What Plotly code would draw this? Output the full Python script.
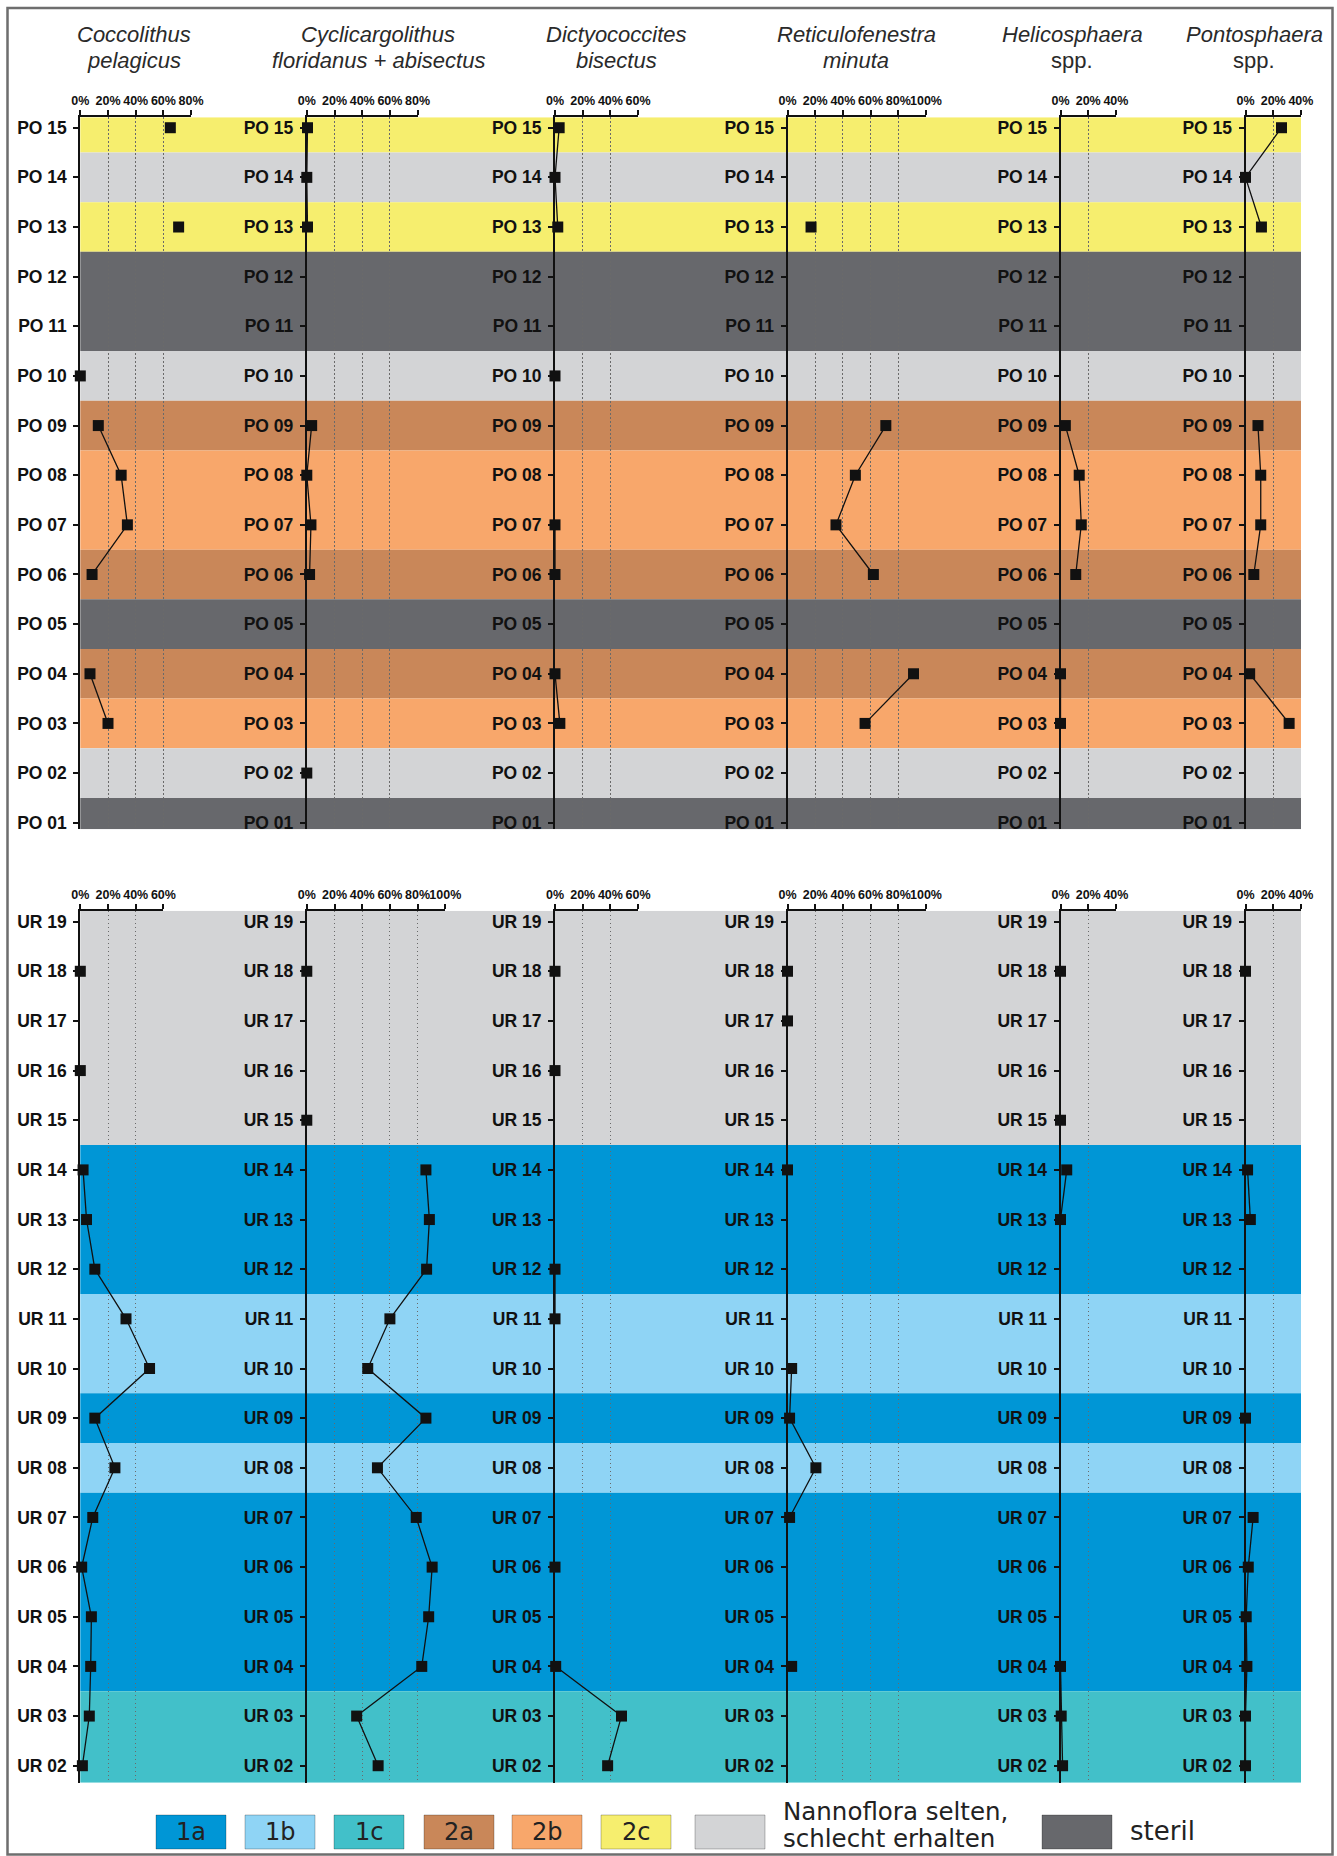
import plotly.graph_objects as go

# ---------------- data ----------------
species_titles = [
    ("Coccolithus", "pelagicus"),
    ("Cyclicargolithus", "floridanus + abisectus"),
    ("Dictyococcites", "bisectus"),
    ("Reticulofenestra", "minuta"),
    ("Helicosphaera", "spp."),
    ("Pontosphaera", "spp."),
]

# upper profile (PO 15 ... PO 01)
po_samples = ["PO 15", "PO 14", "PO 13", "PO 12", "PO 11", "PO 10", "PO 09", "PO 08",
              "PO 07", "PO 06", "PO 05", "PO 04", "PO 03", "PO 02", "PO 01"]
po_zones = ["2c", "grey", "2c", "steril", "steril", "grey", "2a", "2b",
            "2b", "2a", "steril", "2a", "2b", "grey", "steril"]
po_breaks = ["PO 10", "PO 03"]
po_axis_max = [80, 80, 60, 100, 40, 40]
po_coccolithus = [65, None, 71, None, None, 0, 13, 29.5, 34, 8.5, None, 7, 20, None, None]
po_cyclicargolithus = [0.5, 0, 0.5, None, None, None, 3.5, 0, 3, 2, None, None, None, 0, None]
po_dictyococcites = [3, 0, 2, None, None, 0, None, None, 0, 0, None, 0, 3.5, None, None]
po_reticulofenestra = [None, None, 17, None, None, None, 71, 49, 35, 62, None, 91, 56, None, None]
po_helicosphaera = [None, None, None, None, None, None, 3.5, 13.5, 15, 11, None, 0, 0, None, None]
po_pontosphaera = [26, 0, 11.5, None, None, None, 9, 11, 11, 6, None, 3, 31.5, None, None]

# lower profile (UR 19 ... UR 02)
ur_samples = ["UR 19", "UR 18", "UR 17", "UR 16", "UR 15", "UR 14", "UR 13", "UR 12", "UR 11",
              "UR 10", "UR 09", "UR 08", "UR 07", "UR 06", "UR 05", "UR 04", "UR 03", "UR 02"]
ur_zones = ["grey", "grey", "grey", "grey", "grey", "1a", "1a", "1a", "1b",
            "1b", "1a", "1b", "1a", "1a", "1a", "1a", "1c", "1c"]
ur_breaks = ["UR 15"]
ur_axis_max = [60, 100, 60, 100, 40, 40]
ur_coccolithus = [None, 0, None, 0, None, 2, 4.5, 10.5, 33, 50, 10.5, 25, 9, 1, 8, 7.5, 6.5, 1.5]
ur_cyclicargolithus = [None, 0, None, None, 0, 86, 88.5, 86.5, 60, 44, 86, 51, 79, 90.5, 88, 83, 36, 51.5]
ur_dictyococcites = [None, 0, None, 0, None, None, None, 0, 0, None, None, None, None, 0, None, 0.5, 48, 38]
ur_reticulofenestra = [None, 0, 0, None, None, 0, None, None, None, 3, 1.5, 20.5, 1.5, None, None, 3, None, None]
ur_helicosphaera = [None, 0, None, None, 0, 4.5, 0, None, None, None, None, None, None, None, None, 0, 0.5, 1.5]
ur_pontosphaera = [None, 0, None, None, None, 1.5, 3.5, None, None, None, 0, None, 5.5, 2, 0.5, 1, 0, 0]

legend_keys = ["1a", "1b", "1c", "2a", "2b", "2c", "grey", "steril"]
legend_text = {"grey": ["Nannoflora selten,", "schlecht erhalten"], "steril": ["steril"]}

zone_colors = {
    "1a": "#0096d6", "1b": "#8fd4f5", "1c": "#42c0c9",
    "2a": "#c98759", "2b": "#f8a76b", "2c": "#f6ee6e",
    "grey": "#d3d4d6", "steril": "#67686c",
}

# ---------------- geometry (pixels of the 1337x1856 page) ----------------
W, H = 1337, 1856
col_x0 = [80.3, 306.8, 555.0, 787.5, 1060.5, 1245.5]
px_per_pct = 27.7 / 20.0
band_x = (80.3, 1301.0)
panels = [
    dict(samples=po_samples, zones=po_zones, breaks=po_breaks, axmax=po_axis_max,
         values=[po_coccolithus, po_cyclicargolithus, po_dictyococcites,
                 po_reticulofenestra, po_helicosphaera, po_pontosphaera],
         ytop_px=117.3, ybot_px=829.3, rng=(0.867, 15.21)),
    dict(samples=ur_samples, zones=ur_zones, breaks=ur_breaks, axmax=ur_axis_max,
         values=[ur_coccolithus, ur_cyclicargolithus, ur_dictyococcites,
                 ur_reticulofenestra, ur_helicosphaera, ur_pontosphaera],
         ytop_px=910.7, ybot_px=1782.7, rng=(1.658, 19.22)),
]


def fx(px):
    return px / W


def fy(py):
    return 1 - py / H


FONT = "Liberation Sans, Arial, sans-serif"
fig = go.Figure()
layout = dict(width=W, height=H, margin=dict(l=0, r=0, t=0, b=0, pad=0, autoexpand=False),
              paper_bgcolor="white", plot_bgcolor="rgba(0,0,0,0)",
              showlegend=False, font=dict(family=FONT, color="#111"))
shapes = []
annotations = []

for p, pan in enumerate(panels):
    pos = [int(s.split()[1]) for s in pan["samples"]]
    ydom = [fy(pan["ybot_px"]), fy(pan["ytop_px"])]
    for c in range(6):
        k = p * 6 + c + 1
        xs = "" if k == 1 else str(k)
        amax = pan["axmax"][c]
        x0 = col_x0[c]
        x1 = x0 + amax * px_per_pct
        ticks = list(range(0, amax + 1, 20))
        layout["xaxis" + xs] = dict(
            domain=[fx(x0), fx(x1)], range=[0, amax], anchor="y" + xs, side="top",
            showline=True, linecolor="#111", linewidth=2, ticks="outside", ticklen=5,
            tickwidth=1.5, tickcolor="#111", tickvals=ticks, ticktext=[f"{t}%" for t in ticks],
            tickangle=0, automargin=False,
            tickfont=dict(size=12.5, family=FONT, weight="bold", color="#111"),
            showgrid=True, gridcolor="#6a6a6a", griddash="1.5px,2.5px", gridwidth=1,
            zeroline=False, fixedrange=True)
        layout["yaxis" + xs] = dict(
            domain=ydom, range=list(pan["rng"]), anchor="x" + xs, side="left",
            showline=True, linecolor="#111", linewidth=2, ticks="outside", ticklen=5,
            tickwidth=1.5, tickcolor="#111", tickvals=pos, ticktext=pan["samples"],
            automargin=False,
            tickfont=dict(size=17.5, family=FONT, weight="bold", color="#111"),
            ticklabelstandoff=3, showgrid=False, zeroline=False, fixedrange=True)
        # series with breaks
        xv, yv = [], []
        for s, yy, v in zip(pan["samples"], pos, pan["values"][c]):
            xv.append(v)
            yv.append(yy if v is not None else None)
            if s in pan["breaks"]:
                xv.append(None)
                yv.append(None)
        fig.add_trace(go.Scatter(
            x=xv, y=yv, xaxis="x" + xs, yaxis="y" + xs, mode="lines+markers",
            line=dict(color="#111", width=1.3),
            marker=dict(symbol="square", size=11, color="#111"),
            cliponaxis=False, connectgaps=False, hoverinfo="skip"))

    # zone bands (consecutive samples of the same zone merged into one band)
    yref = "y" if p == 0 else "y7"
    lo_lim, hi_lim = pan["rng"]
    n = len(pos)
    i = 0
    while i < n:
        j = i
        while j + 1 < n and pan["zones"][j + 1] == pan["zones"][i]:
            j += 1
        hi = hi_lim if i == 0 else (pos[i] + pos[i - 1]) / 2
        lo = lo_lim if j == n - 1 else (pos[j] + pos[j + 1]) / 2
        shapes.append(dict(type="rect", xref="paper", yref=yref,
                           x0=fx(band_x[0]), x1=fx(band_x[1]), y0=lo, y1=hi,
                           fillcolor=zone_colors[pan["zones"][i]], line=dict(width=0),
                           layer="below"))
        i = j + 1

# titles
title_cx = [134, 378, 616, 856, 1072, 1254]
for (l1, l2), cx in zip(species_titles, title_cx):
    annotations.append(dict(text=l1, x=fx(cx), y=fy(35), xref="paper", yref="paper",
                            xanchor="center", yanchor="middle", showarrow=False,
                            font=dict(family=FONT, size=22, style="italic", color="#2a2a2a")))
    annotations.append(dict(text=l2, x=fx(cx), y=fy(60), xref="paper", yref="paper",
                            xanchor="center", yanchor="middle", showarrow=False,
                            font=dict(family=FONT, size=22,
                                      style="normal" if l2 == "spp." else "italic",
                                      color="#2a2a2a")))

# legend
leg_x0 = [156, 245, 334, 424, 512, 601, 695, 1042]
leg_w = 70
leg_y0, leg_y1 = 1815, 1849
LFONT = "DejaVu Sans, Liberation Sans, sans-serif"
for key, x0 in zip(legend_keys, leg_x0):
    shapes.append(dict(type="rect", xref="paper", yref="paper",
                       x0=fx(x0), x1=fx(x0 + leg_w), y0=fy(leg_y1), y1=fy(leg_y0),
                       fillcolor=zone_colors[key], line=dict(width=1, color="rgba(0,0,0,0.25)")))
    if key in legend_text:
        lines = legend_text[key]
        ys = [1831] if len(lines) == 1 else [1811, 1838]
        for t, yy in zip(lines, ys):
            annotations.append(dict(text=t, x=fx(x0 + leg_w + 16), y=fy(yy), xref="paper",
                                    yref="paper", xanchor="left", yanchor="middle",
                                    showarrow=False,
                                    font=dict(family=LFONT, size=24.5 if len(lines) > 1 else 26,
                                              color="#222")))
    else:
        annotations.append(dict(text=key, x=fx(x0 + leg_w / 2), y=fy(1832), xref="paper",
                                yref="paper", xanchor="center", yanchor="middle",
                                showarrow=False,
                                font=dict(family=LFONT, size=24, color="#222")))

# outer frame
shapes.append(dict(type="rect", xref="paper", yref="paper", x0=fx(7.5), x1=fx(1332.5),
                   y0=fy(1854.5), y1=fy(8), line=dict(color="#6e6e6e", width=2.5),
                   fillcolor="rgba(0,0,0,0)", layer="above"))

layout["shapes"] = shapes
layout["annotations"] = annotations
fig.update_layout(**layout)
fig.write_html("out.html", config={"displayModeBar": False},
               post_script="document.body.style.margin='0px';document.body.style.padding='0px';")
